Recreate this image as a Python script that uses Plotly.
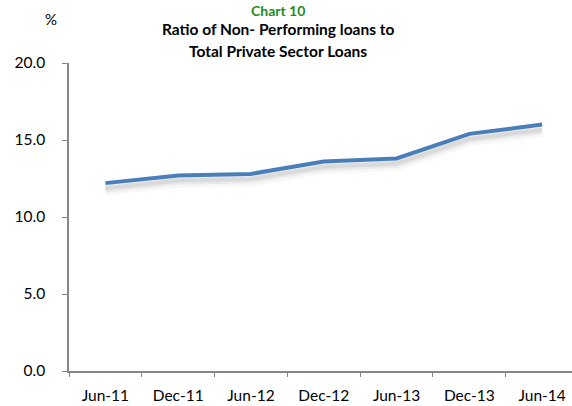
import plotly.graph_objects as go

categories = ["Jun-11", "Dec-11", "Jun-12", "Dec-12", "Jun-13", "Dec-13", "Jun-14"]
npl_ratio = [12.2, 12.7, 12.8, 13.6, 13.8, 15.4, 16.0]
y_ticks = [0, 5, 10, 15, 20]

FONT = "Lato, Open Sans, sans-serif"
AXIS_GREY = "#868686"

fig = go.Figure()

# soft shadow (layered translucent grey lines slightly below the data line)
for off, w, op in [(0.44, 11, 0.05), (0.38, 7, 0.08), (0.33, 4, 0.11)]:
    fig.add_trace(go.Scatter(
        x=categories, y=[v - off for v in npl_ratio], mode="lines",
        line=dict(color=f"rgba(90,90,90,{op})", width=w),
        hoverinfo="skip", showlegend=False))

fig.add_trace(go.Scatter(
    x=categories, y=npl_ratio, mode="lines",
    line=dict(color="#4a7ebb", width=4),
    showlegend=False))

L, T, B = 69, 63, 35

fig.update_layout(
    width=572, height=406,
    margin=dict(l=L, r=0, t=T, b=B, autoexpand=False),
    paper_bgcolor="white", plot_bgcolor="white",
    font=dict(family=FONT, size=15, color="#000000"),
    xaxis=dict(
        type="category", range=[-0.5, 6.41],
        showline=True, linecolor=AXIS_GREY, linewidth=1.5,
        ticks="outside", tickson="boundaries", ticklen=4, tickcolor=AXIS_GREY,
        tickwidth=1.3, showgrid=False, zeroline=False,
        tickfont=dict(family=FONT, size=15.5),
        ticklabelstandoff=10, automargin=False,
    ),
    yaxis=dict(
        range=[0, 20], tickvals=y_ticks, tickformat=".1f",
        showline=True, linecolor=AXIS_GREY, linewidth=1.5,
        ticks="outside", ticklen=5, tickcolor=AXIS_GREY, tickwidth=1.3,
        showgrid=False, zeroline=False,
        tickfont=dict(family=FONT, size=15.5),
        ticklabelstandoff=14, automargin=False,
    ),
    annotations=[
        dict(text="<b>Chart 10</b>", x=278, y=1, showarrow=False,
             font=dict(color="#1e8c1e", size=14, family=FONT),
             xanchor="center", yanchor="top", borderpad=0),
        dict(text="<b>Ratio of Non- Performing loans to</b>", x=278, y=29,
             showarrow=False, font=dict(size=15.5, family=FONT),
             xanchor="center", yanchor="middle"),
        dict(text="<b>Total Private Sector Loans</b>", x=278, y=51,
             showarrow=False, font=dict(size=15.5, family=FONT),
             xanchor="center", yanchor="middle"),
        dict(text="%", x=51, y=19, showarrow=False,
             font=dict(size=15, family=FONT), xanchor="center", yanchor="middle"),
    ],
)

# convert pixel positions of annotations to paper coordinates
plot_w = 572 - L
plot_h = 406 - T - B
for a in fig.layout.annotations:
    px, py = a.x, a.y
    a.xref = "paper"
    a.yref = "paper"
    a.x = (px - L) / plot_w
    a.y = 1 + (T - py) / plot_h

fig.write_html(
    "out.html",
    config={"displayModeBar": False},
    post_script="document.body.style.margin='0';document.body.style.padding='0';"
                "document.body.style.overflow='hidden';",
)
